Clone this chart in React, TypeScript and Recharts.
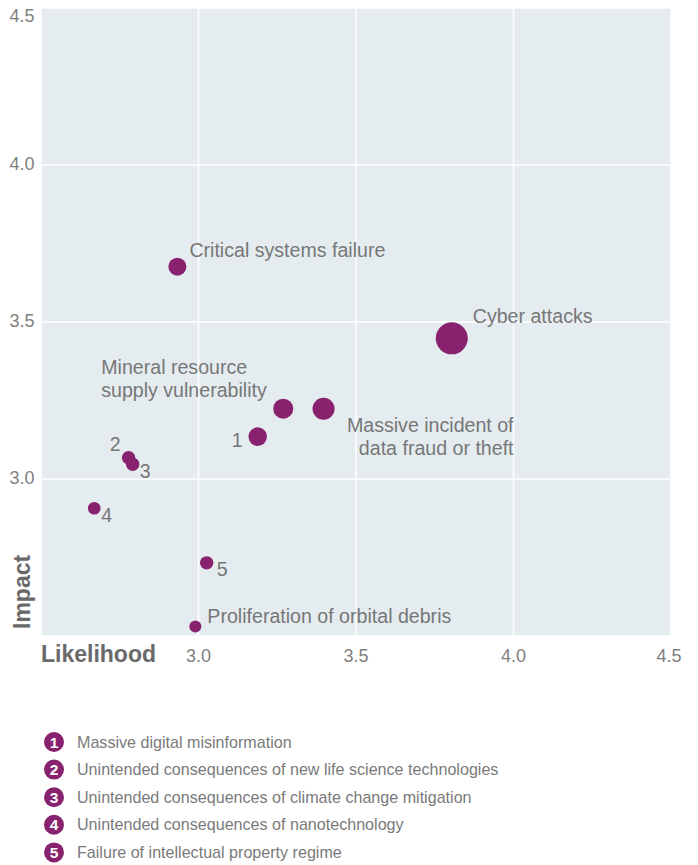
import { CartesianGrid, Scatter, ScatterChart, XAxis, YAxis, ZAxis } from 'recharts'

// risks plotted on the chart
const riskLabels = [
  'Critical systems failure',
  'Cyber attacks',
  'Mineral resource|supply vulnerability',
  'Massive incident of|data fraud or theft',
  '1',
  '2',
  '3',
  '4',
  '5',
  'Proliferation of orbital debris',
]
const likelihood = [2.933, 3.804, 3.269, 3.397, 3.188, 2.778, 2.791, 2.669, 3.026, 2.99]
const impact = [3.676, 3.448, 3.224, 3.224, 3.135, 3.068, 3.047, 2.907, 2.733, 2.53]
const weight = [81, 256, 100, 121, 86, 45, 45, 40, 45, 36]

const axisTicks = [3, 3.5, 4, 4.5]

const legendNumbers = ['1', '2', '3', '4', '5']
const legendNames = [
  'Massive digital misinformation',
  'Unintended consequences of new life science technologies',
  'Unintended consequences of climate change mitigation',
  'Unintended consequences of nanotechnology',
  'Failure of intellectual property regime',
]

const data = riskLabels.map((label, i) => ({
  label,
  x: likelihood[i],
  y: impact[i],
  z: weight[i],
}))

const PURPLE = '#88226F'
const LABEL_GREY = '#777777'
const FONT = '"Liberation Sans", Arial, sans-serif'

// where each label sits relative to its bubble
const labelPlacement: Record<string, { dx: number; dy: number; anchor: 'start' | 'end' }> = {
  'Critical systems failure': { dx: 12, dy: -10, anchor: 'start' },
  'Cyber attacks': { dx: 21, dy: -15, anchor: 'start' },
  'Mineral resource|supply vulnerability': { dx: -182, dy: -35, anchor: 'start' },
  'Massive incident of|data fraud or theft': { dx: 190, dy: 23, anchor: 'end' },
  '1': { dx: -15, dy: 10, anchor: 'end' },
  '2': { dx: -8, dy: -7, anchor: 'end' },
  '3': { dx: 7, dy: 14, anchor: 'start' },
  '4': { dx: 7, dy: 14, anchor: 'start' },
  '5': { dx: 10, dy: 13, anchor: 'start' },
  'Proliferation of orbital debris': { dx: 12, dy: -4, anchor: 'start' },
}

const Bubble = (props: any) => {
  const { cx, cy, size, width, payload } = props
  const r = size ? Math.sqrt(size / Math.PI) : width / 2
  const place = labelPlacement[payload.label]
  const lines = String(payload.label).split('|')
  return (
    <g>
      <circle cx={cx} cy={cy} r={r} fill={PURPLE} />
      <text
        x={cx + place.dx}
        y={cy + place.dy}
        textAnchor={place.anchor}
        fontSize={19.6}
        fontFamily={FONT}
        fill={LABEL_GREY}
      >
        {lines.map((line, i) => (
          <tspan key={i} x={cx + place.dx} dy={i === 0 ? 0 : 23.4}>
            {line}
          </tspan>
        ))}
      </text>
    </g>
  )
}

const XTick = (props: any) => {
  const { x, y, payload } = props
  const shift = payload.value === 4.5 ? -2 : 0
  return (
    <text x={x + shift} y={y + 26} textAnchor="middle" fontSize={18} fontFamily={FONT} fill="#808080">
      {payload.value.toFixed(1)}
    </text>
  )
}

const YTick = (props: any) => {
  const { x, y, payload } = props
  const dy = payload.value === 4.5 ? 12.5 : 4.5
  return (
    <text x={x - 6.5} y={y + dy} textAnchor="end" fontSize={18} fontFamily={FONT} fill="#808080">
      {payload.value.toFixed(1)}
    </text>
  )
}

const XLabel = (props: any) => {
  const { x, y } = props.viewBox
  return (
    <text x={x} y={y + 26} fontSize={23} fontWeight="bold" fontFamily={FONT} fill="#696969">
      Likelihood
    </text>
  )
}

const YLabel = (props: any) => {
  const { y, height } = props.viewBox
  const bx = 29.5
  const by = y + height - 7
  return (
    <text
      x={bx}
      y={by}
      transform={`rotate(-90 ${bx} ${by})`}
      fontSize={23}
      fontWeight="bold"
      fontFamily={FONT}
      fill="#696969"
    >
      Impact
    </text>
  )
}

const RiskLegend = () => (
  <svg width={698} height={165} style={{ position: 'absolute', left: 0, top: 700 }}>
    {legendNames.map((name, i) => {
      const cy = 42 + i * 27.6
      return (
        <g key={name}>
          <circle cx={54} cy={cy} r={10} fill={PURPLE} />
          <text x={54} y={cy + 5.5} textAnchor="middle" fontSize={15.5} fontWeight="bold" fontFamily={FONT} fill="#fff">
            {legendNumbers[i]}
          </text>
          <text x={77} y={cy + 5.5} fontSize={16.1} fontFamily={FONT} fill="#7a7a7a">
            {name}
          </text>
        </g>
      )
    })}
  </svg>
)

const App = () => {
  return (
    <div
      style={{
        position: 'absolute',
        left: 0,
        top: 0,
        width: 698,
        height: 865,
        background: '#fff',
        fontFamily: FONT,
      }}
    >
      <ScatterChart width={698} height={700} margin={{ top: 8, right: 27, bottom: 24, left: 0 }}>
        <CartesianGrid fill="#E4ECF0" stroke="#ffffff" strokeWidth={1.5} />
        <XAxis
          type="number"
          dataKey="x"
          domain={[2.5, 4.5]}
          ticks={axisTicks}
          axisLine={false}
          tickLine={false}
          tickSize={0}
          tickMargin={0}
          height={40}
          tick={<XTick />}
          label={<XLabel />}
        />
        <YAxis
          type="number"
          dataKey="y"
          domain={[2.5, 4.5]}
          ticks={axisTicks}
          axisLine={false}
          tickLine={false}
          tickSize={0}
          tickMargin={0}
          width={41}
          tick={<YTick />}
          label={<YLabel />}
        />
        <ZAxis type="number" dataKey="z" domain={[0, 256]} range={[0, 256 * Math.PI]} />
        <Scatter data={data} fill={PURPLE} shape={<Bubble />} isAnimationActive={false} />
      </ScatterChart>
      <RiskLegend />
    </div>
  )
}

export default App
